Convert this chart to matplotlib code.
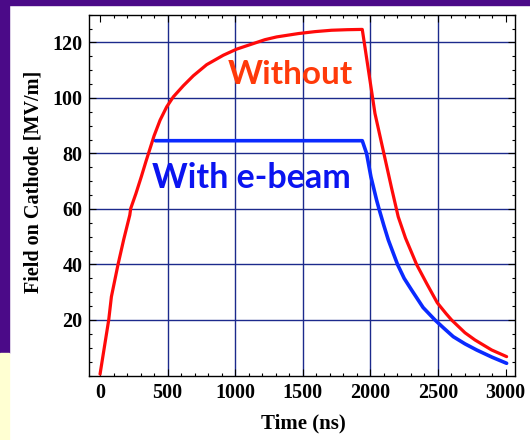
import matplotlib
matplotlib.use("Agg")
import matplotlib.pyplot as plt
from matplotlib.patches import Rectangle
from matplotlib.ticker import MultipleLocator

# Cathode field without beam loading (time in ns, field in MV/m)
t_without = [0, 64, 84, 133, 175, 220, 227, 265, 305, 340, 370, 400, 444,
             493, 542, 616, 690, 789, 912, 1011, 1134, 1220, 1307, 1467,
             1590, 1713, 1830, 1940, 2034, 2157, 2206, 2260, 2318, 2342,
             2416, 2495, 2560, 2601, 2700, 2774, 2897, 3008]
f_without = [0.5, 20, 28.4, 40, 49, 57.8, 60.2, 65.5, 71.6, 77.2, 81.8, 86.4,
             92.0, 96.8, 100.4, 104.4, 108.0, 112.0, 115.4, 117.6, 119.6,
             121.0, 122.0, 123.2, 123.9, 124.4, 124.6, 124.7, 94.4, 67.5,
             57.2, 49.5, 42.8, 40, 33.2, 26.2, 22.3, 20, 15.4, 12.8, 9.2, 6.8]

# Cathode field with e-beam loading
t_with = [410, 1940, 1972, 2004, 2046, 2064, 2100, 2133, 2201, 2250, 2305,
          2390, 2478, 2540, 2613, 2700, 2786, 2900, 3008]
f_with = [84.6, 84.6, 80, 71.6, 63.2, 60, 54, 48.8, 40, 35, 30.8, 24.5,
          20, 17.2, 14, 11.4, 9.2, 6.6, 4.4]

x_ticks = [0, 500, 1000, 1500, 2000, 2500, 3000]
y_ticks = [20, 40, 60, 80, 100, 120]
x_grid = [500, 1000, 1500, 2000, 2500]
y_grid = [20, 40, 60, 80, 100, 120]

W, H = 530, 440
fig = plt.figure(figsize=(W / 100, H / 100), dpi=100)
fig.patch.set_facecolor("white")

purple = "#4b0a88"
# slide border strips
fig.patches.append(Rectangle((0, 1 - 5 / H), 1, 5 / H, transform=fig.transFigure,
                             color=purple, zorder=0))
fig.patches.append(Rectangle((0, 1 - 353 / H), 9 / W, 353 / H, transform=fig.transFigure,
                             color=purple, zorder=0))
fig.patches.append(Rectangle((0, 0), 9 / W, 87 / H, transform=fig.transFigure,
                             color="#ffffd2", zorder=0))

ax = fig.add_axes([88.7 / W, 1 - 375.5 / H, (515 - 88.7) / W, (375.5 - 14.7) / H])
ax.set_xlim(-84, 3070)
ax.set_ylim(0, 130)

grid_col = "#1c2a8c"
ax.vlines(x_grid, 0, 130, colors=grid_col, linewidth=1.0, zorder=1)
ax.hlines(y_grid, -84, 3070, colors=grid_col, linewidth=1.0, zorder=1)

ax.plot(t_without, f_without, color="#ff0a0a", linewidth=2.3, zorder=3,
        solid_joinstyle="round", solid_capstyle="round")
ax.plot(t_with, f_with, color="#0a2aff", linewidth=2.6, zorder=3,
        solid_joinstyle="round", solid_capstyle="round")

ax.text(942, 105.2, "Without", color="#ff3a0a", fontsize=24, fontweight="bold",
        family="Lato", ha="left", va="baseline", zorder=4)
ax.text(382, 67.4, "With e-beam", color="#0a14f0", fontsize=24.5, fontweight="bold",
        family="Lato", ha="left", va="baseline", zorder=4)

ax.set_xticks(x_ticks)
ax.set_yticks(y_ticks)
ax.xaxis.set_minor_locator(MultipleLocator(100))
ax.yaxis.set_minor_locator(MultipleLocator(5))
ax.tick_params(which="both", direction="in", top=True, right=True, width=0.8,
               color="black")
ax.tick_params(which="major", length=5)
ax.tick_params(which="minor", length=2.3)
ax.tick_params(axis="x", pad=5.5)
ax.tick_params(axis="y", pad=4.5)
for lab in ax.get_xticklabels() + ax.get_yticklabels():
    lab.set_family("Liberation Serif")
    lab.set_fontweight("bold")
    lab.set_fontsize(14.5)
for s in ax.spines.values():
    s.set_linewidth(1.0)
    s.set_color("black")

fig.text(303 / W, 1 - 428 / H, "Time (ns)", family="Liberation Serif",
         fontweight="bold", fontsize=15, ha="center", va="baseline")
fig.text(34 / W, 1 - 181.5 / H, "Field on Cathode [MV/m]", family="Liberation Serif",
         fontweight="bold", fontsize=14.5, rotation=90, ha="center", va="center")

fig.savefig("out.png", dpi=100, facecolor=fig.get_facecolor())
